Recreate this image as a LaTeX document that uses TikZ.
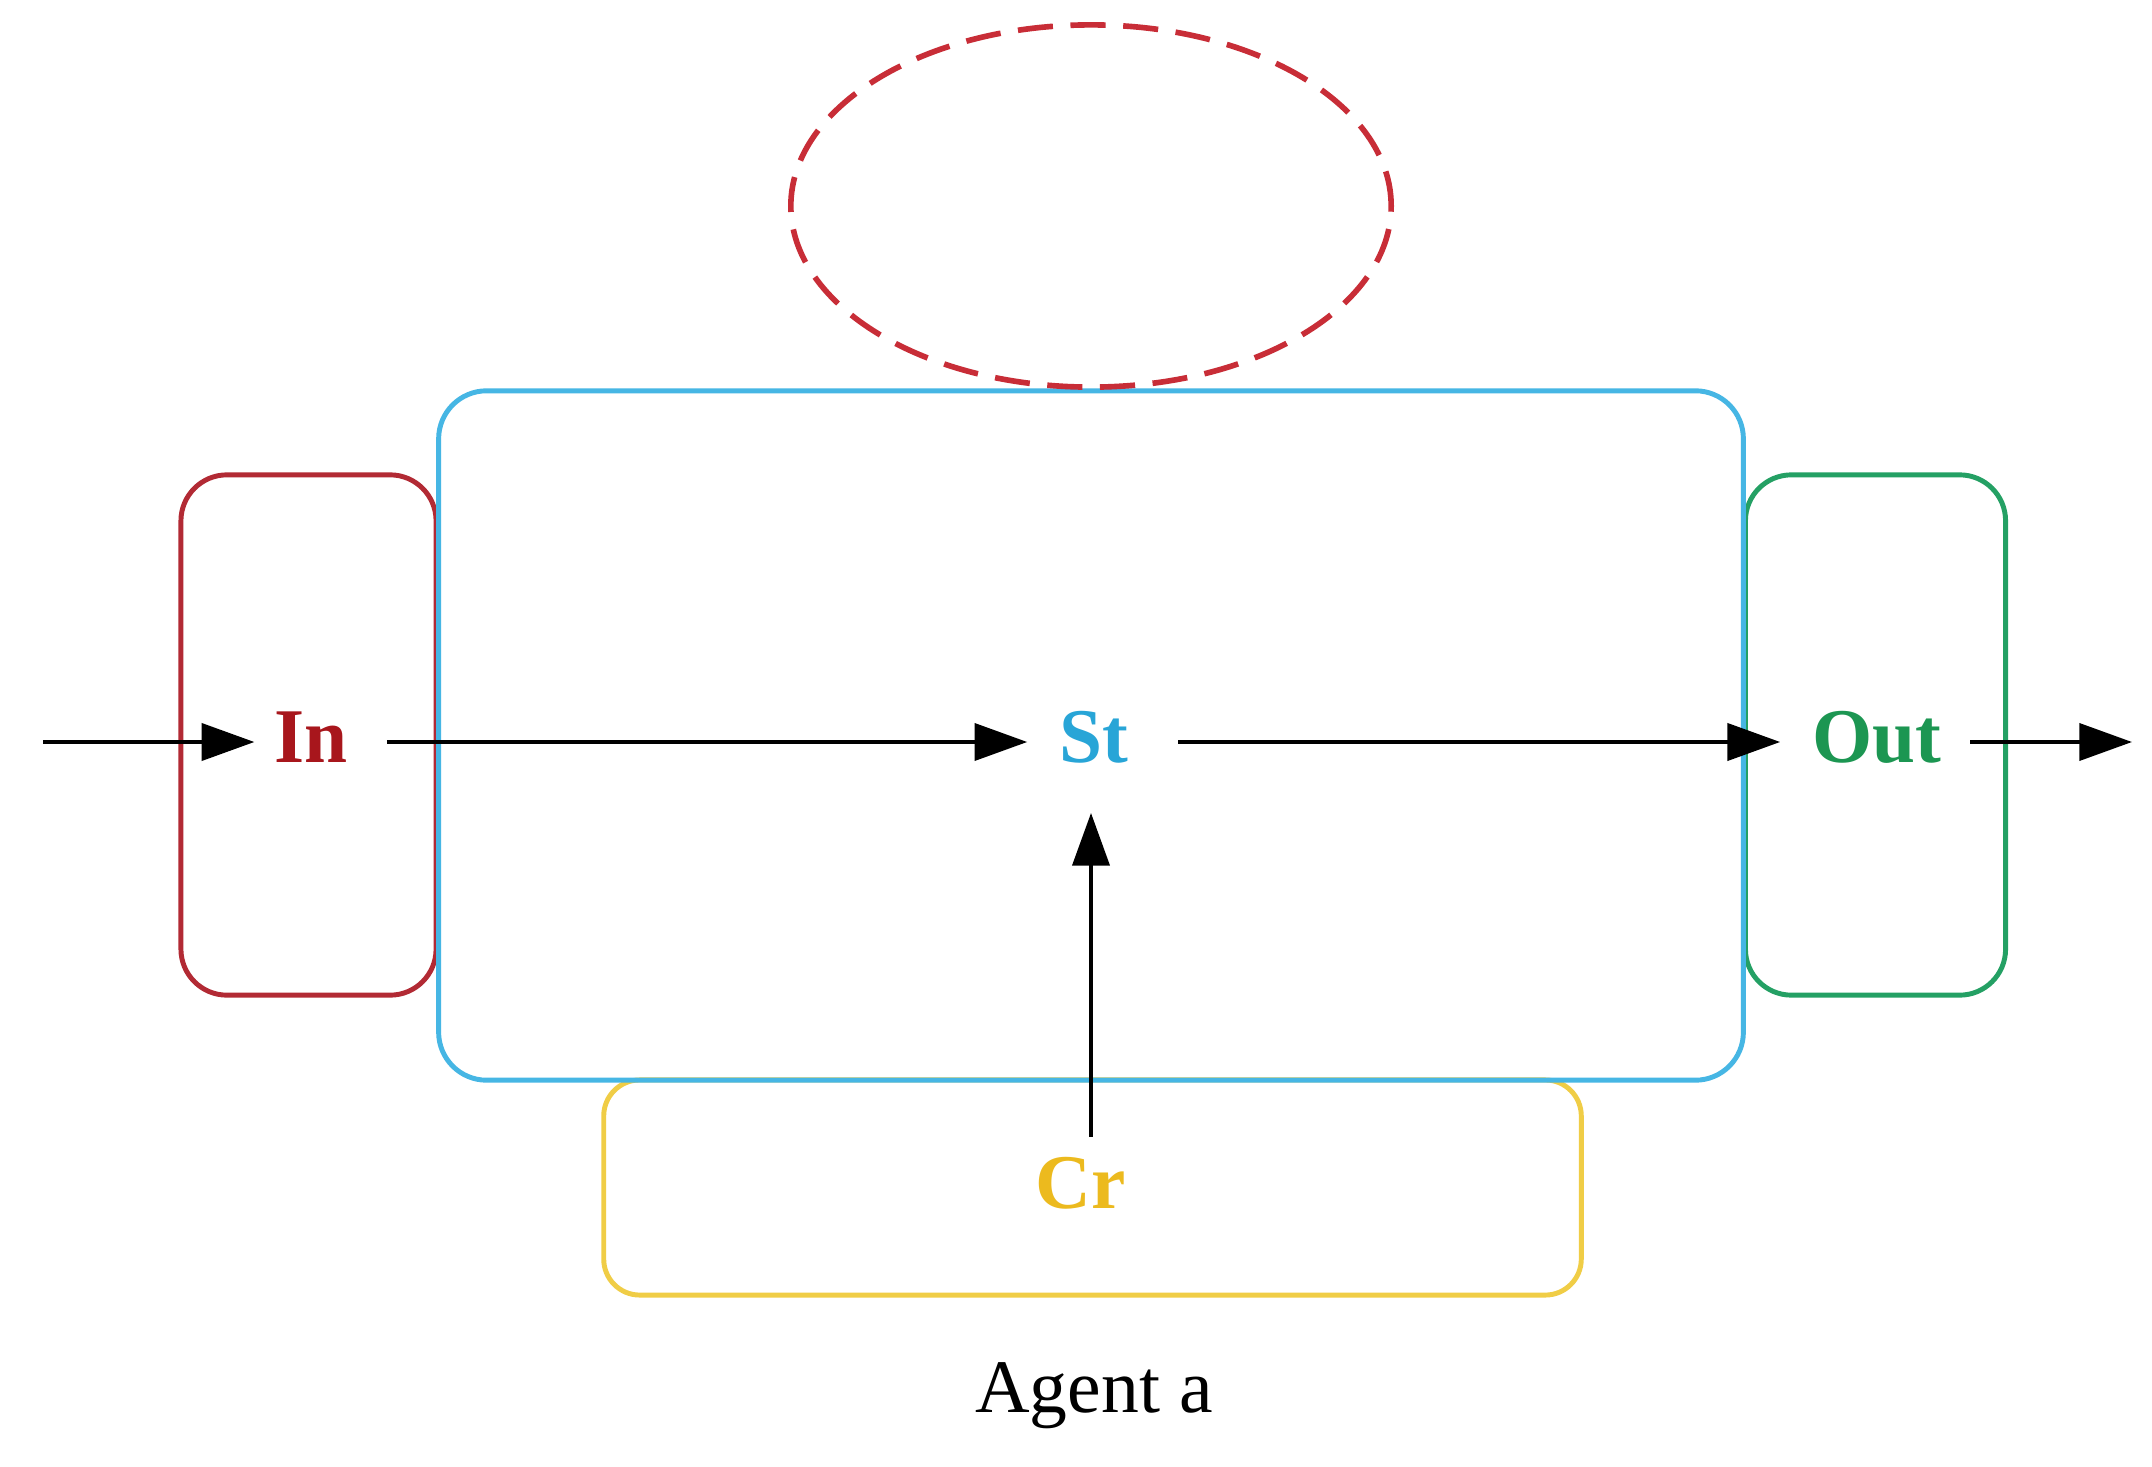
\documentclass[tikz,border=0pt]{standalone}
\usepackage{fontspec}
\setmainfont{Liberation Serif}
\usetikzlibrary{arrows.meta,shapes.geometric}
\definecolor{cred}{RGB}{178,42,52}
\definecolor{tred}{RGB}{168,22,28}
\definecolor{cblue}{RGB}{70,182,228}
\definecolor{tblue}{RGB}{40,165,215}
\definecolor{cgreen}{RGB}{36,160,100}
\definecolor{tgreen}{RGB}{28,150,82}
\definecolor{cyellow}{RGB}{240,205,70}
\definecolor{tyellow}{RGB}{236,186,30}
\definecolor{cellipse}{RGB}{200,45,55}
\tikzset{
  box/.style={draw, line width=1.4pt, rounded corners=0.46cm, inner sep=0pt},
  lbl/.style={font=\fontsize{22}{26}\selectfont\bfseries, inner sep=9pt},
  flow/.style={line width=1.2pt, -{Triangle[length=15pt,width=10.5pt]}}
}
\begin{document}
\begin{tikzpicture}[x=0.01cm,y=-0.01cm]
\useasboundingbox (0,0) rectangle (2152,1467);
\fill[white] (0,0) rectangle (2152,1467);
% boxes
\node[box, draw=cred, minimum width=2.55cm, minimum height=5.2cm] (inbox) at (308.5,735) {};
\node[box, draw=cgreen, minimum width=2.6cm, minimum height=5.2cm] (outbox) at (1875.5,735) {};
\node[box, draw=cyellow, rounded corners=0.36cm, minimum width=9.77cm, minimum height=2.15cm] (crbox) at (1092.5,1187.5) {};
\node[box, draw=cblue, rounded corners=0.48cm, minimum width=13.04cm, minimum height=6.89cm] (stbox) at (1091,735.5) {};
\node[ellipse, draw=cellipse, line width=1.6pt, dash pattern=on 10pt off 5pt, minimum width=6cm, minimum height=3.62cm, inner sep=0pt] (loop) at (1091,206) {};
% labels
\node[lbl, text=tred] (in) at (311,737) {In};
\node[lbl, text=tblue] (st) at (1094,737) {St};
\node[lbl, text=tgreen] (out) at (1877,737) {Out};
\node[lbl, text=tyellow] (cr) at (1081,1183) {Cr};
\node[font=\fontsize{21.5}{26}\selectfont] (agent) at (1094,1396) {Agent a};
% connectors
\coordinate (src) at (43,742);
\coordinate (dst) at (2132,742);
\draw[flow, shorten >=-3.5pt] (src) -- (in.west |- src);
\draw[flow, shorten <=2pt] (in.east |- src) -- (st.west |- src);
\draw[flow, shorten <=5pt] (st.east |- src) -- (out.west |- src);
\draw[flow, shorten <=-1pt] (out.east |- src) -- (dst);
\draw[flow, shorten <=-3.5pt, shorten >=5pt] (cr.north -| 1091,0) -- (st.south -| 1091,0);
\end{tikzpicture}
\end{document}
